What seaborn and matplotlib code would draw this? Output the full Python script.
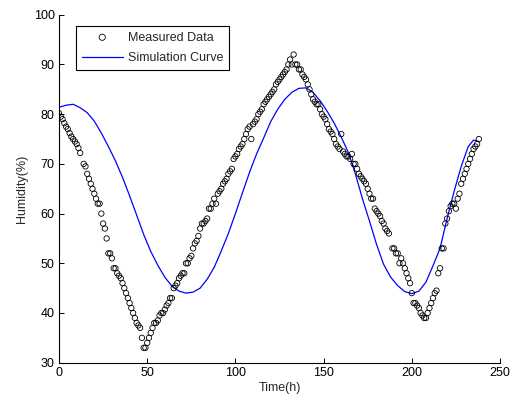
import pandas as pd
import matplotlib
matplotlib.use("Agg")
import matplotlib.pyplot as plt
import seaborn as sns

# -------------------------
# DATA
# -------------------------
meas_time = [
    0, 1, 2, 3, 4, 5, 6, 7, 8, 9, 10, 11, 12, 14, 15, 16, 17, 18, 19, 20,
    21, 22, 23, 24, 25, 26, 27, 28, 29, 30, 31, 32, 33, 34, 35, 36, 37, 38, 39, 40,
    41, 42, 43, 44, 45, 46, 47, 48, 49, 50, 51, 52, 53, 54, 55, 56, 57, 58, 59, 60,
    61, 62, 63, 64, 65, 66, 67, 68, 69, 70, 71, 72, 73, 74, 75, 76, 77, 78, 79, 80,
    81, 82, 83, 84, 85, 86, 87, 88, 89, 90, 91, 92, 93, 94, 95, 96, 97, 98, 99, 100,
    101, 102, 103, 104, 105, 106, 107, 108, 109, 110, 111, 112, 113, 114, 115, 116, 117, 118, 119, 120,
    121, 122, 123, 124, 125, 126, 127, 128, 129, 130, 131, 132, 133, 134, 135, 136, 137, 138, 139, 140,
    141, 142, 143, 144, 145, 146, 147, 148, 149, 150, 151, 152, 153, 154, 155, 156, 157, 158, 159, 160,
    161, 162, 163, 164, 165, 166, 167, 168, 169, 170, 171, 172, 173, 174, 175, 176, 177, 178, 179, 180,
    181, 182, 183, 184, 185, 186, 187, 189, 190, 191, 192, 193, 194, 195, 196, 197, 198, 199, 200, 201,
    202, 203, 204, 205, 206, 207, 208, 209, 210, 211, 212, 213, 214, 215, 216, 217, 218, 219, 220, 221,
    222, 223, 224, 225, 226, 227, 228, 229, 230, 231, 232, 233, 234, 235, 236, 237, 238,
]
meas_humidity = [
    80.2, 79.5, 79, 78.2, 77.5, 77, 76.2, 75.5, 75, 74.5, 74, 73.2, 72.2, 70, 69.5, 68, 67, 66, 65, 64,
    63, 62, 62, 60, 58, 57, 55, 52, 52, 51, 49, 49, 48, 47.5, 47, 46, 45, 44, 43, 42,
    41, 40, 39, 38, 37.5, 37, 35, 33, 33, 34, 35, 36, 37, 38, 38, 38.5, 39.5, 40, 40, 40.7,
    41.5, 42, 43, 43, 45, 45.5, 46, 47, 47.5, 48, 48, 50, 50, 51, 51.5, 53, 54, 54.5, 55.5, 57,
    58, 58, 58.5, 59, 61, 61, 62, 63, 62, 64, 64.5, 65, 66, 66.5, 67, 68, 68.5, 69, 71, 71.5,
    72, 73, 73.5, 74, 75, 76, 77, 77.5, 75, 78, 78.5, 79, 80, 80.5, 81, 82, 82.5, 83, 83.5, 84,
    84.5, 85, 86, 86.5, 87, 87.5, 88, 88.5, 89, 90, 91, 90, 92, 90, 90, 89, 89, 88, 87.5, 87,
    86, 85, 84, 83, 82.5, 82, 82, 81, 80, 79.5, 79, 78, 77, 76.5, 76, 75, 74, 73.5, 73, 76,
    72.5, 72, 71.5, 71.5, 71, 72, 70, 70, 69, 68, 67.5, 67, 66.5, 66, 65, 64, 63, 63, 61, 60.5,
    60, 59.5, 58.5, 58, 57, 56.5, 56, 53, 53, 52, 52, 50, 51, 50, 49, 48, 47, 46, 44, 42,
    42, 41.5, 41, 40, 39.5, 39, 39, 40, 41, 42, 43, 44, 44.5, 48, 49, 53, 53, 58, 59, 60.5,
    61.5, 62, 62, 61, 63, 64, 66, 67, 68, 69, 70, 71, 72, 73, 73.5, 74, 75,
]

sim_time = [
    0, 4, 8, 12, 16, 20, 24, 28, 32, 36, 40, 44, 48, 52, 56, 60, 64, 68, 72, 76,
    80, 84, 88, 92, 96, 100, 104, 108, 112, 116, 120, 124, 128, 132, 136, 140, 144, 148, 152, 156,
    160, 164, 168, 172, 176, 180, 184, 188, 192, 196, 200, 204, 208, 212, 216, 220, 224, 228, 232, 235,
    238,
]
sim_humidity = [
    81.4, 81.8, 82, 81.3, 80.3, 78.6, 76.2, 73.5, 70.6, 67.3, 63.6, 59.7, 55.8, 52.4, 49.6, 47.2, 45.4, 44.4, 44, 44.2,
    45, 46.8, 49.2, 52.5, 56, 60, 64.2, 68.3, 72, 75.2, 78.5, 81, 83, 84.4, 85.2, 85.3, 84.4, 82.7, 80.6, 78.2,
    75.4, 72.3, 68, 63, 58.5, 53.8, 49.8, 47.2, 45.5, 44.3, 43.9, 44.4, 46.2, 49.5, 53, 59, 64.5, 69.5, 73.5, 74.8,
    74.5,
]

measured = pd.DataFrame({"time": meas_time, "humidity": meas_humidity})
simulation = pd.DataFrame({"time": sim_time, "humidity": sim_humidity})

# -------------------------
# STYLE
# -------------------------
sns.set_style("ticks")
plt.rcParams["font.family"] = ["Liberation Sans", "DejaVu Sans"]
plt.rcParams["font.size"] = 9
plt.rcParams["xtick.direction"] = "in"
plt.rcParams["ytick.direction"] = "in"

fig = plt.figure(figsize=(5.14, 4.03), dpi=100)
ax = fig.add_axes([0.1148, 0.1, 0.858, 0.8633])

# -------------------------
# PLOT
# -------------------------
sns.scatterplot(
    data=measured, x="time", y="humidity", ax=ax,
    marker="o", s=15, facecolor="none", edgecolor="black", linewidth=0.6,
    label="Measured Data", zorder=3,
)
sns.lineplot(
    data=simulation, x="time", y="humidity", ax=ax,
    color=(0, 0, 1), linewidth=0.9, label="Simulation Curve", zorder=2,
)

ax.set_xlim(0, 250)
ax.set_ylim(30, 100)
ax.set_xticks(range(0, 251, 50))
ax.set_yticks(range(30, 101, 10))
ax.set_xlabel("Time(h)", fontsize=9, labelpad=2)
ax.set_ylabel("Humidity(%)", fontsize=9, labelpad=4)
ax.tick_params(length=3.5, width=0.7, labelsize=9, colors="black", pad=3)
sns.despine(ax=ax)
for side in ["left", "bottom"]:
    ax.spines[side].set_linewidth(0.8)
    ax.spines[side].set_color("black")

leg = ax.legend(
    loc="upper left", bbox_to_anchor=(0.0385, 0.968), borderaxespad=0,
    fancybox=False, framealpha=1, edgecolor="black", fontsize=9,
    handlelength=3.3, handletextpad=0.45, labelspacing=0.7, borderpad=0.45,
    scatterpoints=1, markerscale=1.15,
)
leg.get_frame().set_linewidth(0.8)

plt.savefig("out.png", dpi=100)
